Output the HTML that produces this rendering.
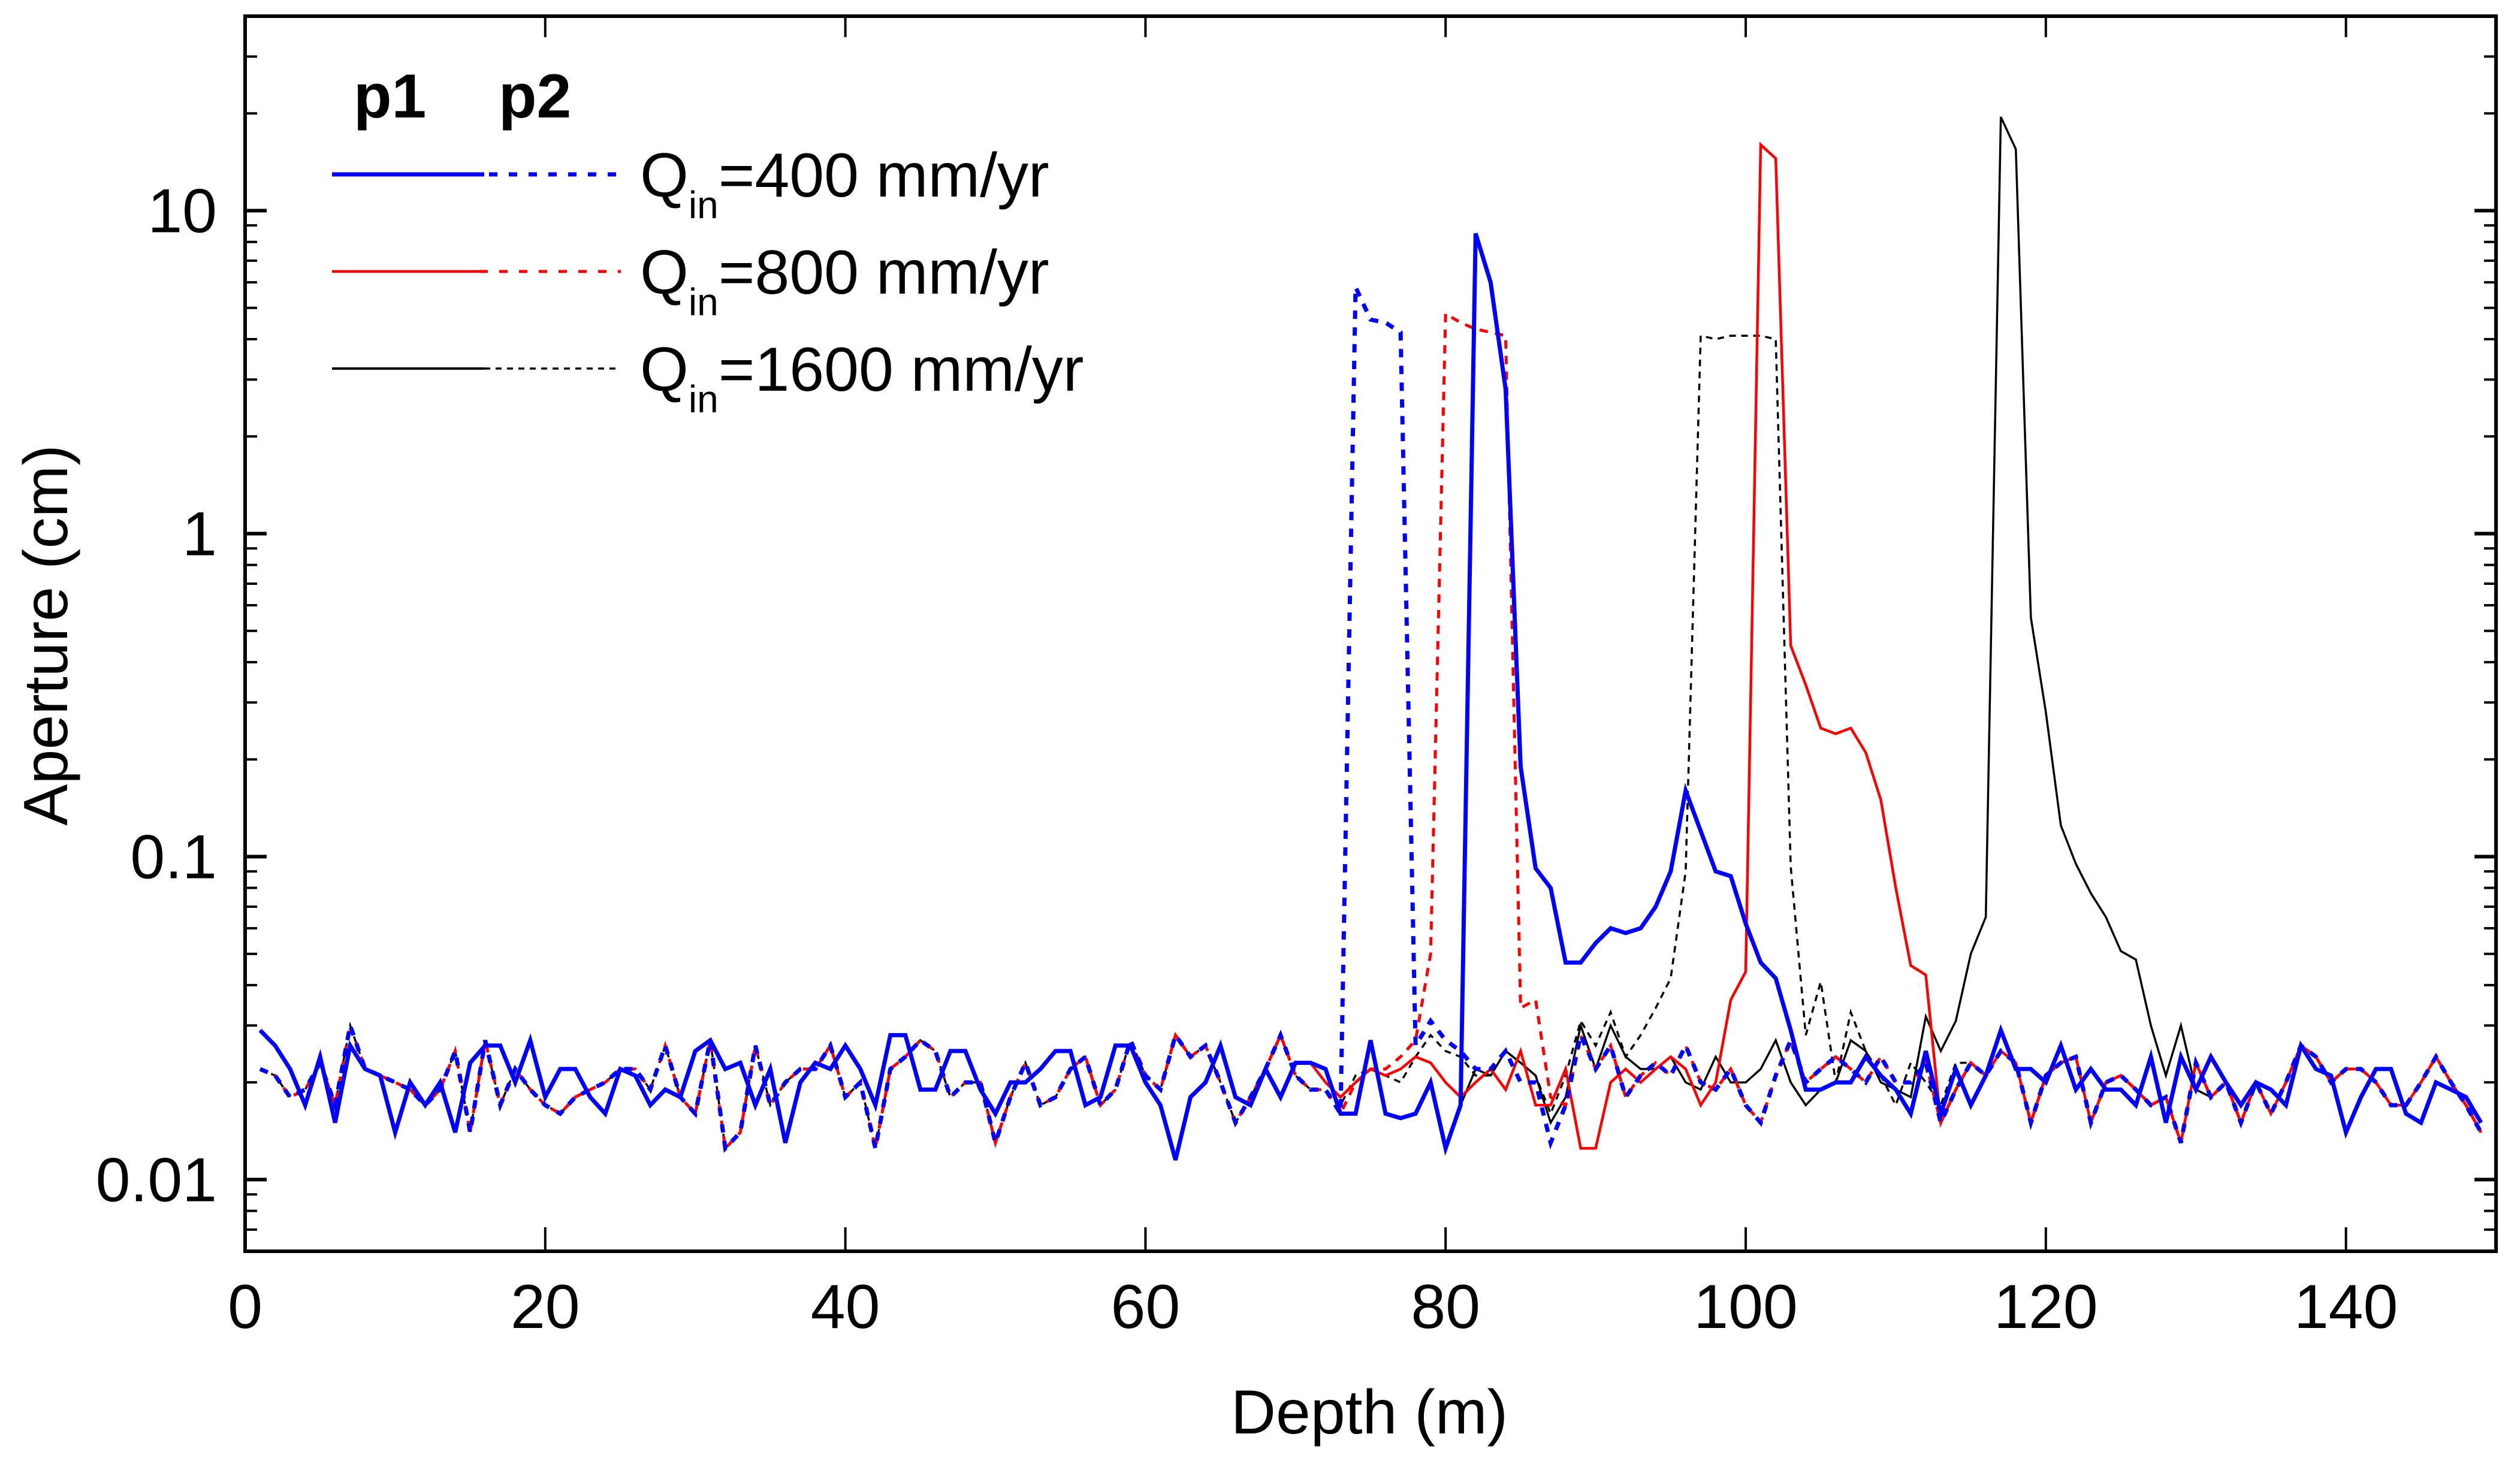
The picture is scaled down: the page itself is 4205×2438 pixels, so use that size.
<!DOCTYPE html>
<html><head><meta charset="utf-8"><style>
html,body{margin:0;padding:0;background:#fff;}
svg{display:block;font-family:"Liberation Sans",Arial,sans-serif;}
</style></head><body>
<svg id="chart" width="4205" height="2438" viewBox="0 0 4205 2438" xmlns="http://www.w3.org/2000/svg">
<rect width="4205" height="2438" fill="#fff"/>
<g id="series"></g>
<g id="axes"></g>
<text x="0" y="0" transform="translate(112,1060) rotate(-90)" font-size="104" text-anchor="middle">Aperture (cm)</text>
<text x="2285" y="2392" font-size="104" text-anchor="middle">Depth (m)</text>
<g>
<text x="590" y="196" font-size="104" font-weight="bold">p1</text>
<text x="832" y="196" font-size="104" font-weight="bold">p2</text>
<line x1="554" y1="291" x2="808" y2="291" stroke="#0000ff" stroke-width="7"/>
<line x1="816" y1="291" x2="1036" y2="291" stroke="#0000ff" stroke-width="7" stroke-dasharray="14 19"/>
<text x="1068" y="328" font-size="104">Q<tspan font-size="64" dy="36">in</tspan><tspan dy="-36">=400 mm/yr</tspan></text>
<line x1="554" y1="453" x2="800" y2="453" stroke="#ff0000" stroke-width="4.5"/>
<line x1="800" y1="453" x2="1036" y2="453" stroke="#ff0000" stroke-width="5" stroke-dasharray="14 19"/>
<text x="1068" y="490" font-size="104">Q<tspan font-size="64" dy="36">in</tspan><tspan dy="-36">=800 mm/yr</tspan></text>
<line x1="554" y1="615" x2="808" y2="615" stroke="#000" stroke-width="4"/>
<line x1="808" y1="615" x2="1036" y2="615" stroke="#000" stroke-width="3.5" stroke-dasharray="10 9"/>
<text x="1068" y="652" font-size="104">Q<tspan font-size="64" dy="36">in</tspan><tspan dy="-36">=1600 mm/yr</tspan></text>
</g>
</svg>
<script>
const xTicks = [0,20,40,60,80,100,120,140];
const yTickValues = [0.01,0.1,1,10];
const yTickLabels = ["0.01","0.1","1","10"];
const blueP1 = [0.029,0.026,0.022,0.017,0.024,0.015,0.026,0.022,0.021,0.014,
0.020,0.017,0.020,0.014,0.023,0.026,0.026,0.020,0.027,0.018,
0.022,0.022,0.018,0.016,0.022,0.021,0.017,0.019,0.018,0.025,
0.027,0.022,0.023,0.017,0.022,0.013,0.020,0.023,0.022,0.026,
0.022,0.017,0.028,0.028,0.019,0.019,0.025,0.025,0.019,0.016,
0.020,0.020,0.022,0.025,0.025,0.017,0.018,0.026,0.026,0.020,
0.017,0.0115,0.018,0.020,0.026,0.018,0.017,0.022,0.018,0.023,
0.023,0.022,0.016,0.016,0.027,0.016,0.0155,0.016,0.020,0.0125,
0.017,8.5,6.0,2.8,0.19,0.092,0.080,0.047,0.047,0.054,
0.060,0.058,0.060,0.070,0.090,0.16,0.12,0.090,0.087,0.062,
0.047,0.042,0.029,0.019,0.019,0.020,0.020,0.024,0.021,0.019,
0.016,0.025,0.016,0.022,0.017,0.021,0.029,0.022,0.022,0.020,
0.026,0.019,0.022,0.019,0.019,0.017,0.024,0.015,0.024,0.019,
0.024,0.020,0.017,0.020,0.019,0.017,0.026,0.022,0.021,0.014,
0.018,0.022,0.022,0.016,0.015,0.020,0.019,0.018,0.015];
const redP1 = [0.029,0.026,0.022,0.017,0.024,0.015,0.026,0.022,0.021,0.014,
0.020,0.017,0.020,0.014,0.023,0.026,0.026,0.020,0.027,0.018,
0.022,0.022,0.018,0.016,0.022,0.021,0.017,0.019,0.018,0.025,
0.027,0.022,0.023,0.017,0.022,0.013,0.020,0.023,0.022,0.026,
0.022,0.017,0.028,0.028,0.019,0.019,0.025,0.025,0.019,0.016,
0.020,0.020,0.022,0.025,0.025,0.017,0.018,0.026,0.026,0.020,
0.017,0.0115,0.018,0.020,0.026,0.018,0.017,0.022,0.018,0.023,
0.023,0.020,0.018,0.020,0.022,0.021,0.022,0.024,0.023,0.020,
0.018,0.020,0.022,0.019,0.025,0.017,0.017,0.022,0.0125,0.0125,
0.020,0.022,0.020,0.022,0.024,0.022,0.017,0.020,0.036,0.044,
16,14.5,0.45,0.34,0.25,0.24,0.25,0.21,0.15,0.08,
0.046,0.043,0.015,0.019,0.023,0.021,0.025,0.023,0.015,0.021,
0.023,0.024,0.015,0.020,0.021,0.019,0.017,0.018,0.013,0.023,
0.018,0.020,0.015,0.020,0.016,0.020,0.026,0.024,0.020,0.022,
0.022,0.020,0.017,0.017,0.020,0.024,0.020,0.017,0.014];
const blackP1 = [0.029,0.026,0.022,0.017,0.024,0.015,0.026,0.022,0.021,0.014,
0.020,0.017,0.020,0.014,0.023,0.026,0.026,0.020,0.027,0.018,
0.022,0.022,0.018,0.016,0.022,0.021,0.017,0.019,0.018,0.025,
0.027,0.022,0.023,0.017,0.022,0.013,0.020,0.023,0.022,0.026,
0.022,0.017,0.028,0.028,0.019,0.019,0.025,0.025,0.019,0.016,
0.020,0.020,0.022,0.025,0.025,0.017,0.018,0.026,0.026,0.020,
0.017,0.0115,0.018,0.020,0.026,0.018,0.017,0.022,0.018,0.023,
0.023,0.022,0.016,0.016,0.027,0.016,0.0155,0.016,0.020,0.0125,
0.017,0.022,0.021,0.025,0.023,0.021,0.015,0.018,0.030,0.022,
0.030,0.024,0.022,0.022,0.024,0.020,0.019,0.024,0.020,0.020,
0.022,0.027,0.020,0.017,0.019,0.020,0.027,0.025,0.020,0.019,
0.018,0.032,0.025,0.031,0.050,0.065,19.5,15.5,0.55,0.28,
0.125,0.095,0.077,0.065,0.051,0.048,0.030,0.021,0.030,0.019,
0.018,0.020,0.015,0.020,0.016,0.020,0.026,0.024,0.020,0.022,
0.022,0.020,0.017,0.017,0.020,0.024,0.020,0.017,0.014];
const blueP2 = [0.022,0.021,0.018,0.019,0.023,0.017,0.030,0.022,0.021,0.020,
0.019,0.017,0.019,0.025,0.014,0.027,0.017,0.022,0.019,0.017,
0.016,0.018,0.019,0.020,0.022,0.022,0.019,0.026,0.018,0.016,
0.027,0.0125,0.014,0.026,0.017,0.020,0.022,0.022,0.026,0.018,
0.020,0.0125,0.022,0.024,0.027,0.025,0.018,0.020,0.020,0.013,
0.018,0.023,0.017,0.018,0.022,0.024,0.017,0.019,0.027,0.021,
0.019,0.028,0.024,0.026,0.020,0.015,0.018,0.022,0.028,0.021,
0.019,0.019,0.016,5.8,4.6,4.5,4.2,0.026,0.031,0.027,
0.025,0.022,0.022,0.025,0.020,0.020,0.013,0.017,0.028,0.022,
0.026,0.018,0.021,0.023,0.021,0.026,0.020,0.019,0.022,0.017,
0.015,0.021,0.027,0.020,0.022,0.024,0.022,0.020,0.024,0.020,
0.020,0.023,0.015,0.019,0.023,0.021,0.025,0.023,0.015,0.021,
0.023,0.024,0.015,0.020,0.021,0.019,0.017,0.018,0.013,0.023,
0.018,0.020,0.015,0.020,0.016,0.020,0.026,0.024,0.020,0.022,
0.022,0.020,0.017,0.017,0.020,0.024,0.020,0.017,0.014];
const redP2 = [0.022,0.021,0.018,0.019,0.023,0.017,0.030,0.022,0.021,0.020,
0.019,0.017,0.019,0.025,0.014,0.027,0.017,0.022,0.019,0.017,
0.016,0.018,0.019,0.020,0.022,0.022,0.019,0.026,0.018,0.016,
0.027,0.0125,0.014,0.026,0.017,0.020,0.022,0.022,0.026,0.018,
0.020,0.0125,0.022,0.024,0.027,0.025,0.018,0.020,0.020,0.013,
0.018,0.023,0.017,0.018,0.022,0.024,0.017,0.019,0.027,0.021,
0.019,0.028,0.024,0.026,0.020,0.015,0.018,0.022,0.028,0.021,
0.019,0.019,0.016,0.020,0.022,0.022,0.024,0.027,0.050,4.8,
4.5,4.3,4.2,4.1,0.034,0.036,0.018,0.017,0.028,0.022,
0.026,0.018,0.021,0.023,0.021,0.026,0.020,0.019,0.022,0.017,
0.015,0.021,0.027,0.020,0.022,0.024,0.022,0.020,0.024,0.020,
0.020,0.023,0.015,0.019,0.023,0.021,0.025,0.023,0.015,0.021,
0.023,0.024,0.015,0.020,0.021,0.019,0.017,0.018,0.013,0.023,
0.018,0.020,0.015,0.020,0.016,0.020,0.026,0.024,0.020,0.022,
0.022,0.020,0.017,0.017,0.020,0.024,0.020,0.017,0.014];
const blackP2 = [0.022,0.021,0.018,0.019,0.023,0.017,0.030,0.022,0.021,0.020,
0.019,0.017,0.019,0.025,0.014,0.027,0.017,0.022,0.019,0.017,
0.016,0.018,0.019,0.020,0.022,0.022,0.019,0.026,0.018,0.016,
0.027,0.0125,0.014,0.026,0.017,0.020,0.022,0.022,0.026,0.018,
0.020,0.0125,0.022,0.024,0.027,0.025,0.018,0.020,0.020,0.013,
0.018,0.023,0.017,0.018,0.022,0.024,0.017,0.019,0.027,0.021,
0.019,0.028,0.024,0.026,0.020,0.015,0.018,0.022,0.028,0.021,
0.019,0.019,0.017,0.021,0.022,0.021,0.020,0.024,0.028,0.025,
0.024,0.021,0.021,0.025,0.023,0.021,0.016,0.021,0.031,0.026,
0.033,0.024,0.028,0.034,0.042,0.09,4.1,4.0,4.1,4.1,
4.1,4.0,0.093,0.028,0.041,0.020,0.033,0.025,0.021,0.017,
0.023,0.020,0.017,0.023,0.023,0.021,0.025,0.023,0.015,0.021,
0.023,0.024,0.015,0.020,0.021,0.019,0.017,0.018,0.013,0.023,
0.018,0.020,0.015,0.020,0.016,0.020,0.026,0.024,0.020,0.022,
0.022,0.020,0.017,0.017,0.020,0.024,0.020,0.017,0.014];

const NS = "http://www.w3.org/2000/svg";
const L = 409, R = 4165, T = 27, B = 2088;
const xMin = 0, xMax = 150, yMin = 0.006, yMax = 40;
function xs(d){ return L + (d - xMin) / (xMax - xMin) * (R - L); }
function ys(v){ return T + (Math.log10(yMax) - Math.log10(v)) / (Math.log10(yMax) - Math.log10(yMin)) * (B - T); }
function mk(tag, attrs){ const e = document.createElementNS(NS, tag); for (const k in attrs) e.setAttribute(k, attrs[k]); return e; }

const sg = document.getElementById('series');
function drawSeries(vals, color, width, dash, name){
  const pts = vals.map((v, i) => xs(i + 1).toFixed(1) + ',' + ys(v).toFixed(1)).join(' ');
  const p = mk('polyline', {points: pts, fill: 'none', stroke: color, 'stroke-width': width, 'stroke-linejoin': 'miter', 'stroke-miterlimit': 4});
  if (dash) p.setAttribute('stroke-dasharray', dash);
  
  
  sg.appendChild(p);
}
drawSeries(blackP1, '#000', 3.5, null, 'series-1600-p1');
drawSeries(blackP2, '#000', 3.5, '11 9', 'series-1600-p2');
drawSeries(redP1, '#ff0000', 4.5, null, 'series-800-p1');
drawSeries(redP2, '#ff0000', 5, '14 12', 'series-800-p2');
drawSeries(blueP1, '#0000ff', 7, null, 'series-400-p1');
drawSeries(blueP2, '#0000ff', 7, '14 14', 'series-400-p2');

const ag = document.getElementById('axes');
const frame = mk('rect', {x: L, y: T, width: R - L, height: B - T, fill: 'none', stroke: '#000', 'stroke-width': 6});


ag.appendChild(frame);
xTicks.forEach(t => {
  const x = xs(t);
  const a = mk('line', {x1: x, y1: B, x2: x, y2: B - 40, stroke: '#000', 'stroke-width': 4});
  
  
  ag.appendChild(a);
  const b = mk('line', {x1: x, y1: T, x2: x, y2: T + 35, stroke: '#000', 'stroke-width': 4});
  
  
  ag.appendChild(b);
  const tx = mk('text', {x: x, y: 2216, 'font-size': 104, 'text-anchor': 'middle'});
  tx.textContent = String(t);
  
  
  ag.appendChild(tx);
});
for (let e = -3; e <= 1; e++) {
  for (let m = 1; m <= 9; m++) {
    const v = m * Math.pow(10, e);
    if (v < yMin * 0.999 || v > yMax * 1.001) continue;
    const y = ys(v);
    const len = m === 1 ? 36 : 20;
    const a = mk('line', {x1: L, y1: y, x2: L + len, y2: y, stroke: '#000', 'stroke-width': m === 1 ? 6 : 4});
    
    
    ag.appendChild(a);
    const b = mk('line', {x1: R, y1: y, x2: R - len, y2: y, stroke: '#000', 'stroke-width': m === 1 ? 6 : 4});
    
    
    ag.appendChild(b);
  }
}
yTickValues.forEach((v, i) => {
  const tx = mk('text', {x: 362, y: ys(v) + 36, 'font-size': 104, 'text-anchor': 'end'});
  tx.textContent = yTickLabels[i];
  
  
  ag.appendChild(tx);
});
</script>
</body></html>
